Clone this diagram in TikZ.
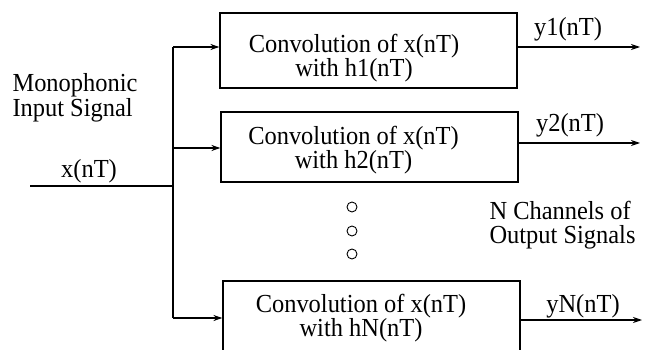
\documentclass[tikz,border=0pt]{standalone}
\usepackage{fontspec}
\setmainfont{Liberation Serif}[FakeStretch=0.94]
\usetikzlibrary{arrows.meta}
\begin{document}
\begin{tikzpicture}[x=1pt,y=-1pt,
  line width=1.1pt,
  box/.style={draw,rectangle,inner sep=0pt,minimum width=297pt},
  txt/.style={font=\fontsize{26}{24.2}\selectfont,inner sep=0pt},
  lbl/.style={txt,anchor=base},
  arr/.style={-{Stealth[length=9pt,width=6pt]}},
  dotc/.style={draw,circle,inner sep=0pt,minimum size=10pt,line width=0.9pt}]
\lineskiplimit=-20pt\relax
\useasboundingbox (0,0) rectangle (651,350);
\clip (0,0) rectangle (651,350);
% boxes
\node[box,minimum height=75pt] (b1) at (368.5,50.5) {};
\node[box,minimum height=70pt] (b2) at (369.5,147) {};
\node[box,minimum height=72pt] (b3) at (371.5,317) {};
% box texts
\node[txt,align=center] (t1) at (354,57.8) {Convolution of x(nT)\\with h1(nT)};
\node[txt,align=center] (t2) at (353.5,150.3) {Convolution of x(nT)\\with h2(nT)};
\node[txt,align=center] (t3) at (361,317.8) {Convolution of x(nT)\\with hN(nT)};
% input
\node[txt,align=left,anchor=west] (mono) at (12,97.8) {Monophonic\\Input Signal};
\node[lbl] (xin) at (89,178) {x(nT)};
\coordinate (in) at (30,186);
\coordinate (jin) at (173,186);
\coordinate (j1) at (173,47);
\coordinate (j2) at (173,148);
\coordinate (j3) at (173,318);
\draw (in) -- (jin);
\draw (j1) -- (j3);
\draw[arr] (j1) -- (j1 -| b1.west);
\draw[arr] (j2) -- (j2 -| b2.west);
\draw[arr] (j3) -- (j3 -| b3.west);
% outputs
\coordinate (o1) at (640,47);
\coordinate (o2) at (640,143);
\coordinate (o3) at (642,320);
\draw[arr] (o1 -| b1.east) -- (o1);
\draw[arr] (o2 -| b2.east) -- (o2);
\draw[arr] (o3 -| b3.east) -- (o3);
\node[lbl] (y1) at (568,36) {y1(nT)};
\node[lbl] (y2) at (570,132) {y2(nT)};
\node[lbl] (yN) at (583,312) {yN(nT)};
% dots
\node[dotc] (d1) at (352,207) {};
\node[dotc] (d2) at (352,231) {};
\node[dotc] (d3) at (352,254) {};
% channels label
\node[txt,align=left,anchor=west] (ch) at (489,225.3) {N Channels of\\Output Signals};
\end{tikzpicture}
\end{document}
